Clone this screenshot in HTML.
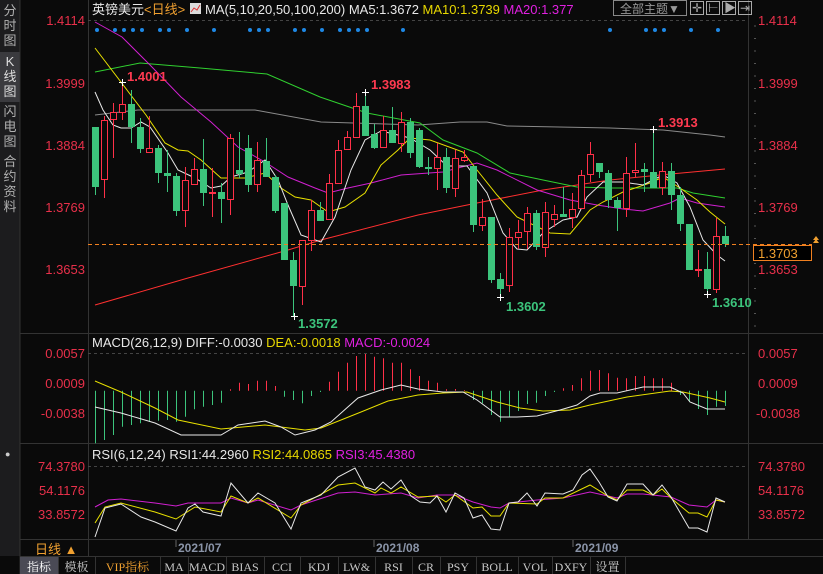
<!DOCTYPE html>
<html><head><meta charset="utf-8">
<style>
html,body{margin:0;padding:0;background:#0a0a0a;width:823px;height:574px;overflow:hidden;font-family:"Liberation Sans","Noto Sans CJK SC",sans-serif}
svg{position:absolute;left:0;top:0}
</style></head><body>
<svg id="s" width="823" height="574" xmlns="http://www.w3.org/2000/svg" font-family="Liberation Sans, Noto Sans CJK SC, sans-serif">
<rect width="823" height="574" fill="#0a0a0a"/>
<!-- sidebar -->
<rect x="0" y="0" width="20" height="556" fill="#1c1c1e"/>
<rect x="0" y="52" width="20" height="50" fill="#3a3a3e"/>
<line x1="20" y1="0" x2="20" y2="574" stroke="#333"/>
<g font-size="13" fill="#b0b0b0" text-anchor="middle">
<text x="10" y="15">分</text><text x="10" y="30">时</text><text x="10" y="45">图</text>
<text x="10" y="66" fill="#ddd">K</text><text x="10" y="81" fill="#ddd">线</text><text x="10" y="96" fill="#ddd">图</text>
<text x="10" y="116">闪</text><text x="10" y="131">电</text><text x="10" y="146">图</text>
<text x="10" y="166">合</text><text x="10" y="181">约</text><text x="10" y="196">资</text><text x="10" y="211">料</text>
</g>
<!-- frame lines -->
<g stroke="#333" stroke-width="1">
<line x1="88.5" y1="0" x2="88.5" y2="540"/>
<line x1="748.5" y1="0" x2="748.5" y2="540"/>
<line x1="20" y1="333.5" x2="823" y2="333.5"/>
<line x1="20" y1="443.5" x2="823" y2="443.5"/>
<line x1="20" y1="539.5" x2="823" y2="539.5"/>
<line x1="20" y1="556.5" x2="823" y2="556.5"/>
</g>
<g stroke="#444" stroke-dasharray="3,3">
<line x1="88" y1="20.5" x2="748" y2="20.5"/>
<line x1="88" y1="353.5" x2="748" y2="353.5"/>
<line x1="88" y1="466.5" x2="748" y2="466.5"/>
</g>
<!-- header -->
<text x="92" y="14" font-size="13" fill="#e8e8e8">英镑美元<tspan fill="#f0a030">&lt;日线&gt;</tspan></text>
<rect x="190" y="3" width="11" height="11" fill="#ddd"/><polyline points="191,12 194,8 197,10 200,5" fill="none" stroke="#d33" stroke-width="1"/>
<text x="205" y="14" font-size="13" fill="#e8e8e8">MA(5,10,20,50,100,200) MA5:1.3672 <tspan fill="#e8d800">MA10:1.3739</tspan> <tspan fill="#e020e0">MA20:1.377</tspan></text>
<rect x="613.5" y="0.5" width="73" height="15" fill="none" stroke="#888"/>
<text x="620" y="13" font-size="12" fill="#999">全部主题▼</text>
<g fill="none" stroke="#aaa"><rect x="690.5" y="1.5" width="13" height="13"/><rect x="706.5" y="1.5" width="13" height="13"/><rect x="722.5" y="1.5" width="13" height="13"/><rect x="738.5" y="1.5" width="13" height="13"/></g>
<g font-size="12" fill="#aaa"><text x="692" y="12">✛</text><text x="708" y="12">⊢</text><text x="724" y="12">▶</text><text x="740" y="12">⇥</text></g>
<!-- axis labels -->
<g font-size="13" fill="#e8304a">
<text x="85" y="25" text-anchor="end">1.4114</text><text x="85" y="88" text-anchor="end">1.3999</text><text x="85" y="150" text-anchor="end">1.3884</text><text x="85" y="212" text-anchor="end">1.3769</text><text x="85" y="274" text-anchor="end">1.3653</text>
<text x="758" y="25">1.4114</text><text x="758" y="88">1.3999</text><text x="758" y="150">1.3884</text><text x="758" y="212">1.3769</text><text x="758" y="274">1.3653</text>
<text x="85" y="358" text-anchor="end">0.0057</text><text x="85" y="388" text-anchor="end">0.0009</text><text x="85" y="418" text-anchor="end">-0.0038</text>
<text x="758" y="358">0.0057</text><text x="758" y="388">0.0009</text><text x="756" y="418">-0.0038</text>
<text x="85" y="471" text-anchor="end">74.3780</text><text x="85" y="495" text-anchor="end">54.1176</text><text x="85" y="519" text-anchor="end">33.8572</text>
<text x="758" y="471">74.3780</text><text x="758" y="495">54.1176</text><text x="758" y="519">33.8572</text>
</g>
<g id="g"></g>
<!-- current price -->
<line x1="88" y1="244.5" x2="812" y2="244.5" stroke="#f08020" stroke-dasharray="4,3"/>
<rect x="753.5" y="245.5" width="58" height="15" fill="#000" stroke="#f08020"/>
<text x="758" y="258" font-size="13" fill="#f0a030">1.3703</text>
<polygon points="813,240 819,240 816,236" fill="#f0a030"/><polygon points="813,243 819,243 816,239" fill="#f0a030"/>
<!-- annotations -->
<g font-size="13" font-weight="bold">
<text x="127" y="81" fill="#ff3a50">1.4001</text><text x="371" y="89" fill="#ff3a50">1.3983</text><text x="658" y="127" fill="#ff3a50">1.3913</text>
<text x="298" y="328" fill="#3cc47c">1.3572</text><text x="506" y="311" fill="#3cc47c">1.3602</text><text x="712" y="307" fill="#3cc47c">1.3610</text>
</g>
<!-- sub titles -->
<text x="92" y="347" font-size="13" fill="#e8e8e8">MACD(26,12,9) DIFF:-0.0030 <tspan fill="#e8d800">DEA:-0.0018</tspan> <tspan fill="#e020e0">MACD:-0.0024</tspan></text>
<text x="92" y="459" font-size="13" fill="#e8e8e8">RSI(6,12,24) RSI1:44.2960 <tspan fill="#e8d800">RSI2:44.0865</tspan> <tspan fill="#e020e0">RSI3:45.4380</tspan></text>
<text x="5" y="457" font-size="9" fill="#ccc">●</text>
<!-- dates -->
<g font-size="12" font-weight="bold" fill="#8a94a8">
<text x="178" y="552">2021/07</text><text x="376" y="552">2021/08</text><text x="575" y="552">2021/09</text>
</g>
<g stroke="#666"><line x1="176" y1="540" x2="176" y2="547"/><line x1="374" y1="540" x2="374" y2="547"/><line x1="573" y1="540" x2="573" y2="547"/></g>
<text x="35" y="554" font-size="13" fill="#f0a030">日线 ▲</text>
<line x1="88.5" y1="540" x2="88.5" y2="557" stroke="#333"/>
<!-- bottom tabs -->
<rect x="20" y="557" width="38" height="17" fill="#4a4a55"/>
<g id="tabs" font-size="12" fill="#c8c8c8" font-family="Liberation Serif, Noto Serif CJK SC, serif"></g>
</svg>
<script>
var NS="http://www.w3.org/2000/svg",g=document.getElementById("g");
function el(t,a,p){var e=document.createElementNS(NS,t);for(var k in a)e.setAttribute(k,a[k]);(p||g).appendChild(e);return e;}
function pl(pts,c){el("polyline",{points:pts,fill:"none",stroke:c,"stroke-width":1});}
// blue dots
[97,115,124,133,142,160,169,187,214,250,259,268,295,304,322,340,349,358,367,403,610,646,655,664,691,718].forEach(function(x){el("circle",{cx:x,cy:30,r:2,fill:"#1e88e5"});});
// right axis ticks
for(var y=26;y<330;y+=12.5)el("line",{x1:754,y1:y,x2:756,y2:y,stroke:"#555"});
// MAs
pl("95,305 188,278 288,250 321,240 418,215 477,203 543,190 577,185 610,180 660,175 725,169","#ff3030");
pl("95,115 138,110 255,110 321,122 418,125 460,122 487,122 507,126 610,128 663,130 710,135 725,137","#8a8a8a");
pl("95,72 140,63 200,68 267,74 320,97 367,113 420,123 443,140 477,153 510,173 543,180 577,187 610,188 677,188 693,193 725,198","#30d030");
pl("95,22 122,37 150,65 181,97 211,122 238,147 265,162 288,177 315,188 328,193 348,188 371,183 401,175 443,172 477,163 497,170 537,190 570,200 597,205 623,209 643,211 670,203 680,198 697,203 725,207","#d020d0");
pl("95,48 146,115 165,143 178,150 188,151 201,160 221,178 245,178 265,173 281,188 295,197 311,200 328,212 345,207 365,193 381,165 398,150 410,138 430,140 463,152 477,170 497,195 517,217 550,233 570,234 590,210 603,202 623,192 650,183 663,177 680,188 697,200 710,212 725,224","#e8e000");
pl("95,92 103,110 113,125 121,128 131,128 141,122 150,127 168,153 178,170 195,178 211,188 221,186 231,177 248,172 265,160 278,180 288,205 301,235 321,242 335,217 351,170 365,140 381,131 398,135 410,138 430,150 447,166 467,166 487,193 503,233 517,249 527,250 543,233 563,220 577,217 587,197 603,182 623,182 643,185 663,175 677,183 690,207 703,240 717,255 725,261","#e8e8e8");
// candles: [bodyTop,bodyBot,wickTop,wickBot,up?]
var C=[[127,187,127,195,0],[120,179,116,198,1],[112,119,103,158,1],[104,112,83,120,1],[104,127,90,143,0],[127,149,118,153,0],[148,152,116,152,1],[148,173,145,183,0],[173,176,150,192,0],[176,211,173,216,0],[180,210,167,227,1],[169,184,158,185,1],[169,193,139,206,0],[192,193,168,217,1],[192,199,183,223,0],[138,199,134,215,1],[170,174,132,178,0],[148,185,135,192,0],[160,184,142,192,1],[161,177,138,177,0],[177,211,175,213,0],[203,260,203,260,0],[260,286,252,316,0],[240,286,240,305,1],[210,240,200,251,1],[210,221,202,221,0],[183,219,174,219,1],[150,183,140,183,1],[137,149,131,149,1],[106,137,93,137,1],[106,136,92,136,0],[134,148,124,149,0],[130,147,116,147,1],[130,143,107,143,0],[122,143,112,152,1],[122,153,118,158,0],[130,167,128,168,0],[167,169,157,175,0],[157,168,143,190,1],[157,188,148,193,0],[158,188,150,197,1],[157,160,150,162,1],[166,225,166,232,0],[217,225,199,231,1],[217,280,217,283,0],[279,289,273,299,0],[237,285,228,292,1],[232,237,220,249,1],[213,231,207,249,1],[213,247,210,250,0],[212,247,202,257,1],[214,219,205,227,1],[214,217,187,217,0],[209,217,193,228,1],[175,208,170,208,1],[154,174,142,182,1],[163,172,163,178,0],[173,200,170,208,0],[200,208,197,231,0],[173,208,157,217,1],[170,172,143,177,1],[169,172,163,192,0],[172,188,130,188,0],[171,187,162,195,1],[171,195,163,210,0],[195,224,187,231,0],[224,270,224,270,0],[269,270,250,277,1],[269,289,252,295,0],[236,289,218,293,1],[236,244,226,247,0]];
C.forEach(function(c,i){var x=95+9*i,col=c[4]?"#ff3048":"#3cc47c";
 el("line",{x1:x+.5,y1:c[2],x2:x+.5,y2:c[3],stroke:col});
 if(c[4])el("rect",{x:x-2.5,y:c[0]+.5,width:6,height:Math.max(1,c[1]-c[0]),fill:"#0a0a0a",stroke:col});
 else el("rect",{x:x-3,y:c[0],width:7,height:Math.max(1,c[1]-c[0]),fill:col});});
// markers
[[122,82],[365,92],[653,129],[294,316],[500,297],[707,294]].forEach(function(p){el("line",{x1:p[0]-3,y1:p[1]+.5,x2:p[0]+4,y2:p[1]+.5,stroke:"#fff"});el("line",{x1:p[0]+.5,y1:p[1]-3,x2:p[0]+.5,y2:p[1]+4,stroke:"#fff"});});
// MACD histogram
var H=[443.3,440,435,426.7,425,423.3,421.7,420.7,420,421.7,416.7,409.3,406.7,405,402.7,389.3,382.7,384,380.7,380.7,386,396.7,400,403.3,396,392,381.7,371.7,362.7,356,354,356.7,358.3,362.7,362.7,369.3,376,380.7,382.7,389.3,389,390,400,403.3,415,421.7,417.3,411,404,402.7,396,392,388.3,385,378.3,370.7,370,373.3,377.7,378.3,376,376,378.3,378.3,382.7,395,401.7,409,415,406.7,406],z=390.7;
H.forEach(function(h,i){var x=95+9*i+.5;el("line",{x1:x,y1:z,x2:x,y2:h,stroke:h<z?"#ff3048":"#3cc47c"});});
pl("95,381 121,392 155,408 178,420 221,429 265,425 305,430 321,428 361,412 388,401 418,395 443,393 467,392 497,402 520,408 543,411 570,410 590,405 627,397 670,391 683,392 710,398 725,402","#e8e000");
pl("95,407 121,413 155,423 181,435 221,435 238,425 265,421 281,427 295,435 315,430 331,422 358,398 381,390 401,385 418,389 443,392 463,392 477,400 500,417 517,417 537,416 560,410 577,405 590,396 600,393 617,393 643,387 670,387 683,393 690,402 707,409 725,409","#e8e8e8");
// RSI
pl("95,507 108,500 121,499 155,503 176,506 188,503 221,503 231,498 248,503 258,500 291,510 301,505 338,493 355,492 375,495 401,493 418,498 437,495 455,495 473,502 491,507 500,508 509,503 537,500 563,498 590,492 617,498 627,494 643,494 671,497 689,505 707,507 716,500 725,502","#d020d0");
pl("95,523 105,507 121,503 155,512 176,519 195,507 221,512 231,496 248,503 258,498 291,518 301,505 338,485 355,483 375,493 381,488 391,493 401,487 418,497 437,496 446,502 455,495 473,508 482,507 491,516 500,516 509,503 537,504 545,498 563,498 590,485 608,496 617,500 627,490 643,490 653,495 662,489 671,498 689,513 698,513 707,517 716,500 725,502","#e8e000");
pl("95,537 105,508 121,504 141,517 155,522 176,531 188,508 195,504 203,512 221,516 231,483 248,503 258,493 275,503 291,529 301,503 321,495 338,477 355,468 365,487 375,490 383,482 391,489 401,480 411,496 420,502 430,503 437,496 446,512 455,493 464,498 473,518 482,515 491,529 500,530 509,503 518,502 527,493 537,506 545,493 563,494 573,490 582,475 590,469 599,482 608,497 617,501 627,484 643,484 653,495 662,485 671,497 689,528 698,528 707,532 716,498 725,502","#e8e8e8");
// tabs
var T=[["指标",20,58],["模板",58,95],["VIP指标",95,160],["MA",160,188],["MACD",188,226],["BIAS",226,264],["CCI",264,300],["KDJ",300,338],["LW&",338,375],["RSI",375,412],["CR",412,440],["PSY",440,476],["BOLL",476,518],["VOL",518,552],["DXFY",552,590],["设置",590,625]],tg=document.getElementById("tabs");
T.forEach(function(t,i){var e=el("text",{x:(t[1]+t[2])/2,y:571,"text-anchor":"middle",fill:i==2?"#f0a030":(i==0?"#fff":"#c8c8c8")},tg);e.textContent=t[0];el("line",{x1:t[2]+.5,y1:557,x2:t[2]+.5,y2:574,stroke:"#333"},tg);});
</script>
</body></html>
